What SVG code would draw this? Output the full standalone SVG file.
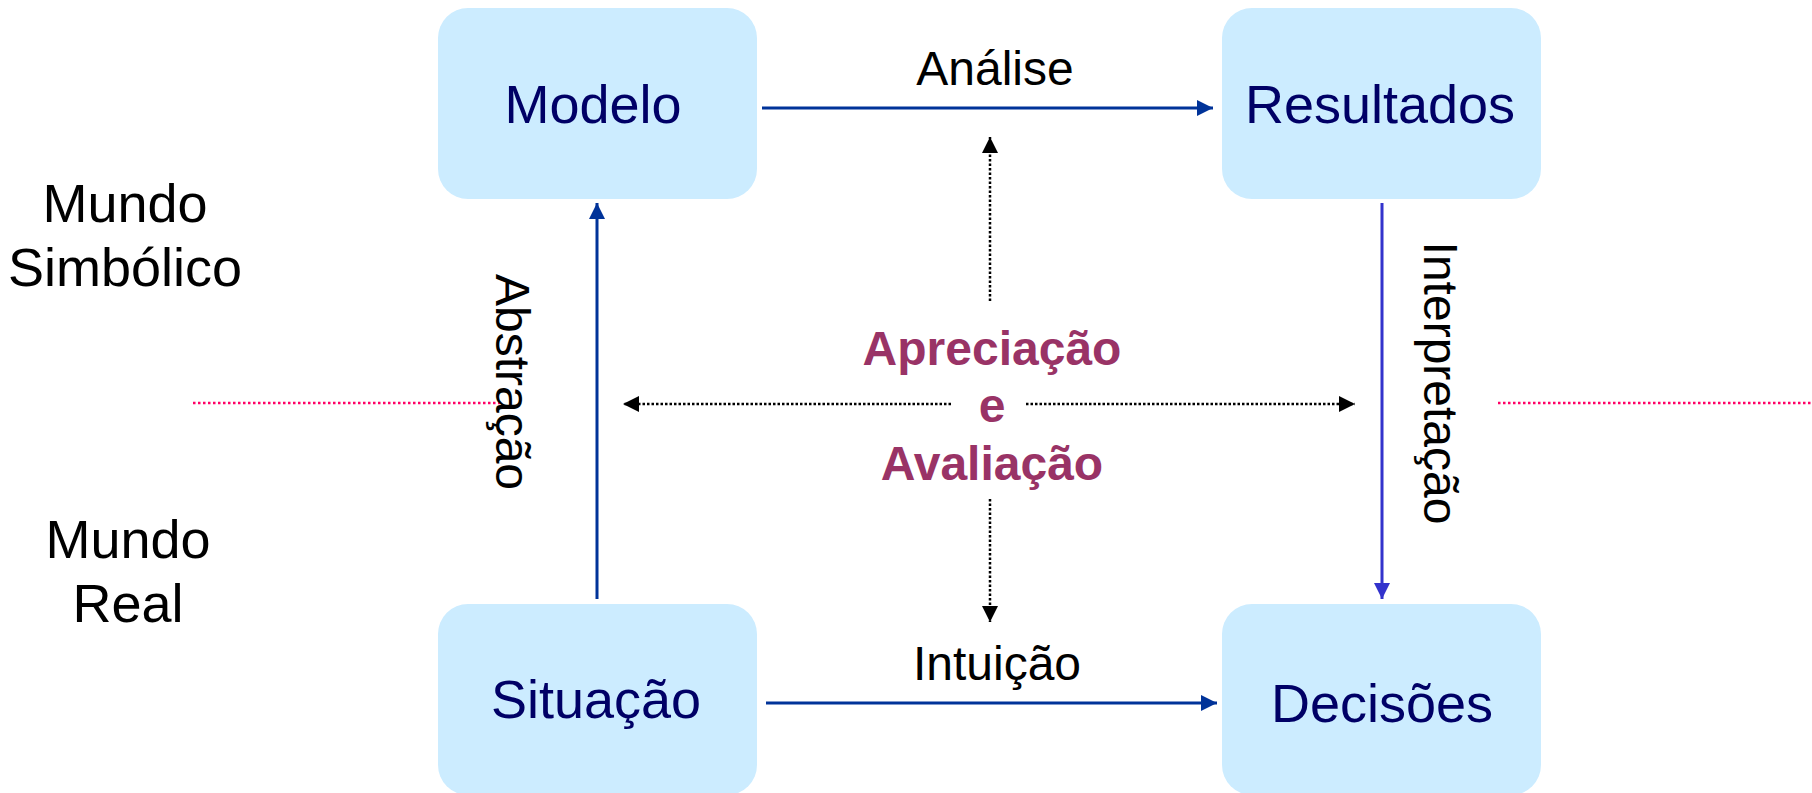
<svg xmlns="http://www.w3.org/2000/svg" width="1812" height="793" viewBox="0 0 1812 793">
<style>
.box{fill:#ccecff}
.nt{font-family:"Liberation Sans",Arial,sans-serif;font-size:54px;fill:#000066;text-anchor:middle}
.lb{font-family:"Liberation Sans",Arial,sans-serif;font-size:48px;fill:#000;text-anchor:middle}
.wd{font-family:"Liberation Sans",Arial,sans-serif;font-size:54px;fill:#000;text-anchor:middle}
.ap{font-family:"Liberation Sans",Arial,sans-serif;font-size:48px;font-weight:bold;fill:#993366;text-anchor:middle}
.blue{stroke:#003399;stroke-width:3;fill:none}
.blue2{stroke:#3333cc;stroke-width:3;fill:none}
.dot{stroke:#000;stroke-width:2.5;stroke-dasharray:2.5 2;fill:none}
.pink{stroke:#ff0066;stroke-width:2.5;stroke-dasharray:2.5 2.5;fill:none}
</style>
<defs>
<marker id="ab" markerUnits="userSpaceOnUse" markerWidth="16" markerHeight="16" refX="16" refY="8" orient="auto"><path d="M0,0 L16,8 L0,16 Z" fill="#003399"/></marker>
<marker id="ab2" markerUnits="userSpaceOnUse" markerWidth="16" markerHeight="16" refX="16" refY="8" orient="auto"><path d="M0,0 L16,8 L0,16 Z" fill="#3333cc"/></marker>
<marker id="ak" markerUnits="userSpaceOnUse" markerWidth="16" markerHeight="16" refX="16" refY="8" orient="auto"><path d="M0,0 L16,8 L0,16 Z" fill="#000"/></marker>
</defs>
<rect width="1812" height="793" fill="#fff"/>
<g id="labels-world">
<text class="wd" x="125" y="222">Mundo</text>
<text class="wd" x="125" y="286">Simbólico</text>
<text class="wd" x="128" y="558">Mundo</text>
<text class="wd" x="128" y="622">Real</text>
</g>
<g id="separators">
<line class="pink" x1="193" y1="403" x2="500" y2="403"/>
<line class="pink" x1="1498" y1="403" x2="1812" y2="403"/>
</g>
<g id="node-modelo"><rect class="box" x="438" y="8" width="319" height="191" rx="30"/><text class="nt" x="593" y="123">Modelo</text></g>
<g id="node-resultados"><rect class="box" x="1222" y="8" width="319" height="191" rx="30"/><text class="nt" x="1380" y="123">Resultados</text></g>
<g id="node-situacao"><rect class="box" x="438" y="604" width="319" height="191" rx="30"/><text class="nt" x="596" y="718">Situação</text></g>
<g id="node-decisoes"><rect class="box" x="1222" y="604" width="319" height="191" rx="30"/><text class="nt" x="1382" y="722">Decisões</text></g>
<g id="connectors">
<line class="blue" x1="762" y1="108" x2="1213" y2="108" marker-end="url(#ab)"/>
<line class="blue" x1="766" y1="703" x2="1217" y2="703" marker-end="url(#ab)"/>
<line class="blue" x1="597" y1="599" x2="597" y2="203" marker-end="url(#ab)"/>
<line class="blue2" x1="1382" y1="203" x2="1382" y2="599" marker-end="url(#ab2)"/>
<line class="dot" x1="990" y1="301" x2="990" y2="137" marker-end="url(#ak)"/>
<line class="dot" x1="990" y1="499" x2="990" y2="622" marker-end="url(#ak)"/>
<line class="dot" x1="951" y1="404" x2="623" y2="404" marker-end="url(#ak)"/>
<line class="dot" x1="1026" y1="404" x2="1355" y2="404" marker-end="url(#ak)"/>
</g>
<g id="edge-labels">
<text class="lb" x="995" y="85">Análise</text>
<text class="lb" x="997" y="680">Intuição</text>
<text class="lb" transform="translate(496,382) rotate(90)">Abstração</text>
<text class="lb" transform="translate(1424,383) rotate(90)">Interpretação</text>
</g>
<g id="center-label">
<text class="ap" x="992" y="365">Apreciação</text>
<text class="ap" x="992" y="422">e</text>
<text class="ap" x="992" y="480">Avaliação</text>
</g>
</svg>
